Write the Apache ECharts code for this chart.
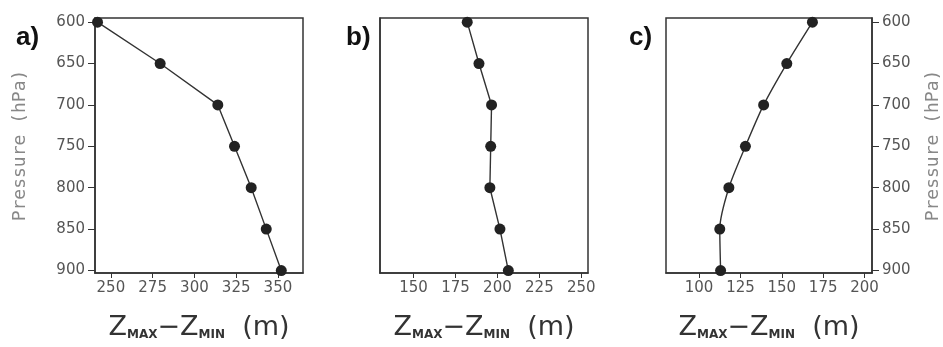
<!DOCTYPE html>
<html>
<head>
<meta charset="utf-8">
<script src="https://cdn.jsdelivr.net/npm/echarts@6/dist/echarts.min.js"></script>
<style>
  html, body { margin: 0; padding: 0; background: #fff; }
  #main { width: 943px; height: 347px; }
</style>
</head>
<body>
<div id="main"></div>
<script>
// pressure levels (hPa)
var pressure = [600, 650, 700, 750, 800, 850, 900];
// Zmax - Zmin (m) per panel
var zA = [242, 279.5, 314, 324, 334, 343, 352];
var zB = [182, 189, 196.5, 196, 195.5, 201.5, 206.5];
var zC = [168.5, 153, 139, 128, 118, 112.5, 113];
// tick labels
var pTicks = [600, 650, 700, 750, 800, 850, 900];
var xTicksA = [250, 275, 300, 325, 350];
var xTicksB = [150, 175, 200, 225, 250];
var xTicksC = [100, 125, 150, 175, 200];
var panelNames = ['a)', 'b)', 'c)'];

function pairs(xs) {
    var out = [];
    for (var i = 0; i < xs.length; i++) {
        out.push([xs[i], pressure[i]]);
    }
    return out;
}

var axisColor = '#333';
var labelFont = 'DejaVu Sans';

// subscripts pushed below the Z baseline with top padding
var nameRich = {
    z: { fontSize: 27, fontFamily: labelFont, color: '#333', lineHeight: 27, verticalAlign: 'top' },
    s: { fontSize: 12, fontWeight: 'bold', fontFamily: labelFont, color: '#333', lineHeight: 12, padding: [19, 0, 0, 0], verticalAlign: 'bottom' }
};
var xName = '{z|Z}{s|MAX}{z|\u2212Z}{s|MIN}{z|  (m)}';

function makeX(idx, min, max, ticks) {
    return {
        gridIndex: idx,
        type: 'value',
        min: min,
        max: max,
        name: xName,
        nameLocation: 'middle',
        nameGap: 41,
        nameTextStyle: { rich: nameRich },
        axisLine: { show: true, onZero: false, lineStyle: { color: axisColor, width: 1.5 } },
        axisTick: { show: true, length: 5, customValues: ticks, lineStyle: { color: axisColor } },
        axisLabel: { customValues: ticks, margin: 8, fontSize: 15, fontFamily: labelFont, color: '#555' },
        splitLine: { show: false }
    };
}

function makeY(idx, pos, showLabels, nameGap) {
    return {
        gridIndex: idx,
        type: 'value',
        position: pos,
        inverse: true,
        min: 595,
        max: 903,
        name: showLabels ? 'Pressure (hPa)' : '',
        nameLocation: 'middle',
        nameRotate: 90,
        nameGap: nameGap,
        nameTextStyle: { fontSize: 18, fontFamily: 'DejaVu Sans Mono', color: '#888' },
        axisLine: { show: true, lineStyle: { color: axisColor, width: 1.5 } },
        axisTick: { show: showLabels, length: 7, customValues: pTicks, lineStyle: { color: axisColor } },
        axisLabel: { show: showLabels, customValues: pTicks, margin: 10, fontSize: 15, fontFamily: labelFont, color: '#555' },
        splitLine: { show: false }
    };
}

function makeSeries(idx, xs, smooth) {
    return {
        type: 'line',
        xAxisIndex: idx,
        yAxisIndex: idx,
        data: pairs(xs),
        smooth: smooth,
        symbol: 'circle',
        symbolSize: 11,
        itemStyle: { color: '#222' },
        lineStyle: { color: '#333', width: 1.4 }
    };
}

var panelStyle = { fontSize: 26, fontWeight: 'bold', fontFamily: 'Liberation Sans', color: '#111' };

var myChart = echarts.init(document.getElementById('main'));
var option = {
    animation: false,
    backgroundColor: '#fff',
    title: [
        { text: panelNames[0], left: 11, top: 20, textStyle: panelStyle },
        { text: panelNames[1], left: 341, top: 20, textStyle: panelStyle },
        { text: panelNames[2], left: 624, top: 20, textStyle: panelStyle }
    ],
    grid: [
        { left: 95, top: 18, width: 208, height: 255, show: true, borderColor: axisColor, borderWidth: 1.5 },
        { left: 380, top: 18, width: 208, height: 255, show: true, borderColor: axisColor, borderWidth: 1.5 },
        { left: 666, top: 18, width: 206, height: 255, show: true, borderColor: axisColor, borderWidth: 1.5 }
    ],
    xAxis: [
        makeX(0, 240.5, 365, xTicksA),
        makeX(1, 130, 254, xTicksB),
        makeX(2, 80, 204.5, xTicksC)
    ],
    yAxis: [
        makeY(0, 'left', true, 66),
        makeY(1, 'left', false, 0),
        makeY(2, 'right', true, 52)
    ],
    series: [
        makeSeries(0, zA, false),
        makeSeries(1, zB, false),
        makeSeries(2, zC, 0.25)
    ]
};
myChart.setOption(option);
</script>
</body>
</html>
